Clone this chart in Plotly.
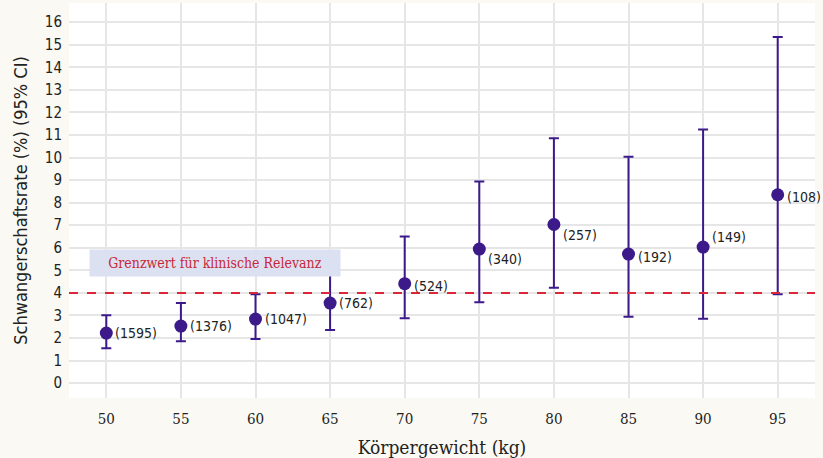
import plotly.graph_objects as go

weight = [50, 55, 60, 65, 70, 75, 80, 85, 90, 95]
rate = [2.22, 2.53, 2.84, 3.55, 4.41, 5.94, 7.03, 5.72, 6.03, 8.35]
ci_low = [1.55, 1.86, 1.95, 2.35, 2.88, 3.58, 4.23, 2.94, 2.85, 3.94]
ci_high = [3.01, 3.55, 3.94, 5.0, 6.5, 8.94, 10.86, 10.03, 11.24, 15.34]
n_labels = ["(1595)", "(1376)", "(1047)", "(762)", "(524)", "(340)", "(257)", "(192)", "(149)", "(108)"]
label_dy = [0, 0, 0, 0, -2, -10, -10, -3, 10, -2]
threshold = 4
threshold_label = "Grenzwert für klinische Relevanz"
y_ticks = list(range(0, 17))
x_ticks = weight

purple = "#3d1a8a"

fig = go.Figure()
fig.add_trace(go.Scatter(
    x=weight, y=rate, mode="markers",
    marker=dict(color=purple, size=13),
    error_y=dict(type="data", symmetric=False,
                 array=[h - r for h, r in zip(ci_high, rate)],
                 arrayminus=[r - l for r, l in zip(rate, ci_low)],
                 color=purple, thickness=2, width=5),
    showlegend=False, hoverinfo="skip",
))

for xv, yv, t, dy in zip(weight, rate, n_labels, label_dy):
    fig.add_annotation(x=xv, y=yv, xref="x", yref="y", text=t, showarrow=False,
                       xanchor="left", yanchor="middle", xshift=7, yshift=dy,
                       font=dict(family="DejaVu Sans Condensed", size=14, color="#222222"))

fig.add_shape(type="line", xref="paper", x0=0, x1=1, yref="y", y0=threshold, y1=threshold,
              line=dict(color="#d8283a", width=2, dash="dash"))

fig.add_annotation(x=57.3, y=5.32, xref="x", yref="y", text=threshold_label, showarrow=False,
                   bgcolor="#dbe1f1", font=dict(family="DejaVu Serif Condensed", size=14, color="#c8283a"),
                   width=246, height=22, borderpad=2)

fig.update_layout(
    width=823, height=458,
    margin=dict(l=69, r=8, t=3, b=60),
    paper_bgcolor="#faf9f4", plot_bgcolor="#ffffff",
    font=dict(family="DejaVu Sans Condensed", size=14, color="#222222"),
    xaxis=dict(range=[47.5, 97.5], tickvals=x_ticks, showgrid=True, gridcolor="#e6e6e6", gridwidth=2,
               zeroline=False, ticks="", ticklen=0, automargin=False, ticklabelstandoff=10,
               tickfont=dict(family="DejaVu Serif Condensed", size=15),
               title=dict(text="Körpergewicht (kg)", font=dict(family="DejaVu Serif Condensed", size=19), standoff=14)),
    yaxis=dict(range=[-0.66, 16.85], tickvals=y_ticks, showgrid=True, gridcolor="#e6e6e6", gridwidth=2,
               zeroline=False, ticks="", ticklen=0, automargin=False, ticklabelstandoff=6,
               tickfont=dict(family="DejaVu Sans Condensed", size=15),
               title=dict(text="Schwangerschaftsrate (%) (95% CI)", font=dict(family="DejaVu Sans Condensed", size=18), standoff=12)),
)

fig.write_html("out.html", config={"displayModeBar": False},
               post_script="document.body.style.margin='0';document.body.style.padding='0';")
